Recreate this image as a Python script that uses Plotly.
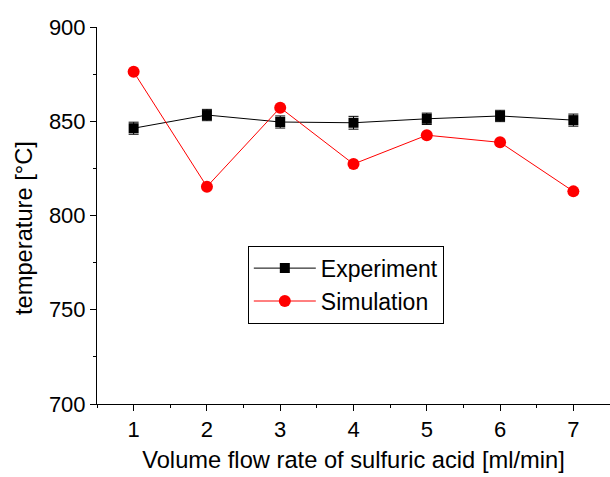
import plotly.graph_objects as go

flow_rate = [1, 2, 3, 4, 5, 6, 7]
experiment = [846.3, 853.3, 849.6, 849.2, 851.3, 852.8, 850.6]
experiment_err = [3.2, 3.0, 3.2, 3.4, 3.0, 3.0, 3.2]
simulation = [876.2, 815.3, 857.2, 827.3, 842.6, 838.8, 812.8]

fig = go.Figure()
fig.add_trace(go.Scatter(
    x=flow_rate, y=experiment, name="Experiment", mode="lines+markers",
    line=dict(color="black", width=1),
    marker=dict(symbol="square", size=10, color="black"),
    error_y=dict(type="data", array=experiment_err, color="black", thickness=1, width=5),
))
fig.add_trace(go.Scatter(
    x=flow_rate, y=simulation, name="Simulation", mode="lines+markers",
    line=dict(color="#ff0000", width=1),
    marker=dict(symbol="circle", size=12, color="#ff0000"),
))

FONT = "Liberation Sans, Arial"
tick_font = dict(family=FONT, size=22, color="black")
title_font = dict(family=FONT, size=23.7, color="black")
fig.update_layout(
    width=610, height=477,
    margin=dict(l=97, r=0, t=27, b=73),
    paper_bgcolor="white", plot_bgcolor="white",
    font=tick_font,
    showlegend=True,
    legend=dict(x=0.294, y=0.42, xanchor="left", yanchor="top",
                bordercolor="black", borderwidth=1, bgcolor="white",
                font=dict(family=FONT, size=23, color="black"),
                tracegroupgap=0, itemwidth=62),
)
fig.add_annotation(
    text="temperature [°C]", textangle=-90, showarrow=False,
    xref="paper", yref="paper", x=-0.142, y=0.467,
    xanchor="center", yanchor="middle", font=title_font,
)
fig.update_xaxes(
    range=[0.5, 7.5], dtick=1, tick0=1, showgrid=False, zeroline=False,
    showline=True, linecolor="black", linewidth=1,
    ticks="outside", ticklen=6, tickcolor="black",
    minor=dict(ticks="outside", ticklen=3, dtick=0.5, tick0=0.5, tickcolor="black", showgrid=False),
    title=dict(text="Volume flow rate of sulfuric acid [ml/min]", font=title_font, standoff=10),
    tickfont=tick_font,
)
fig.update_yaxes(
    range=[700, 900], dtick=50, showgrid=False, zeroline=False,
    showline=True, linecolor="black", linewidth=1,
    ticks="outside", ticklen=6, tickcolor="black",
    minor=dict(ticks="outside", ticklen=3, dtick=25, tickcolor="black", showgrid=False),
    tickfont=tick_font,
)
fig.write_html("out.html", config={"displayModeBar": False},
               post_script="document.body.style.margin='0';")
